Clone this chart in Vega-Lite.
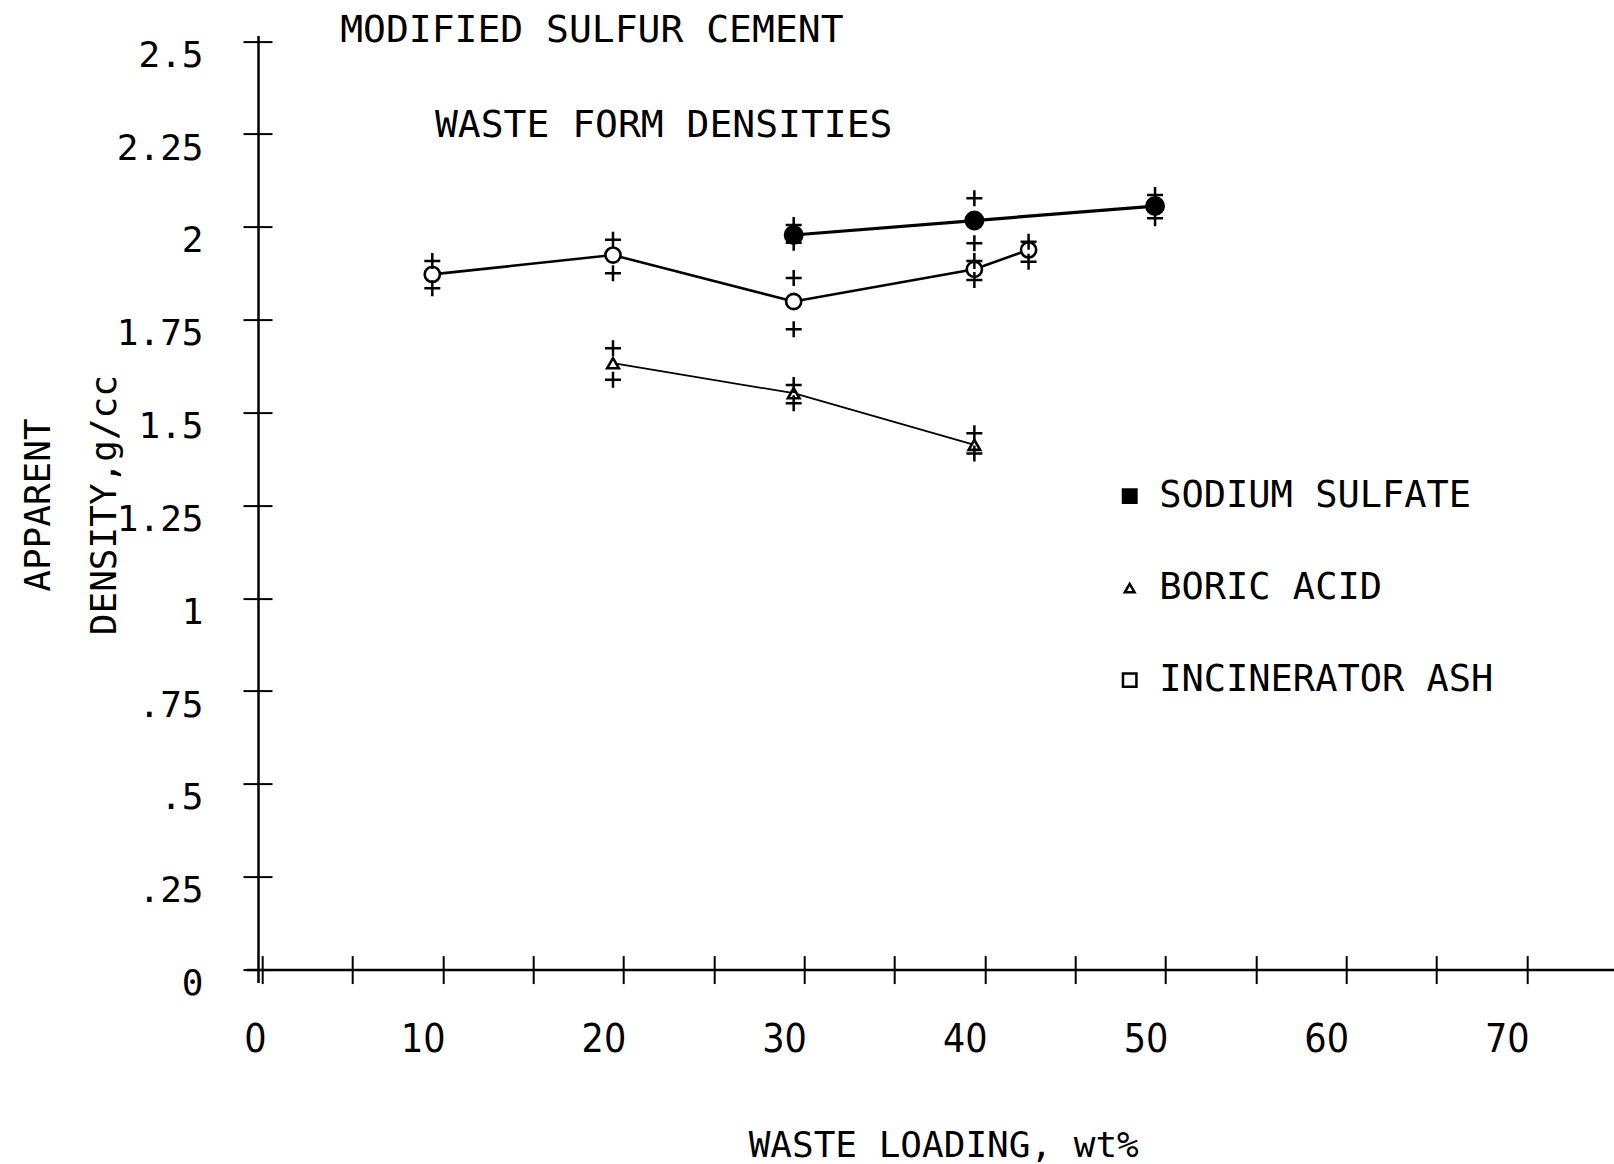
{
  "$schema": "https://vega.github.io/schema/vega-lite/v6.json",
  "width": 1367.8,
  "height": 947,
  "autosize": {"type": "none"},
  "padding": {"left": 246.2, "top": 35.6, "right": 0, "bottom": 181.4},
  "background": "white",
  "config": {"view": {"stroke": null}, "font": "DejaVu Sans Mono"},
  "title": {
    "text": "MODIFIED SULFUR CEMENT",
    "orient": "top",
    "anchor": "start",
    "frame": "group",
    "dx": 94,
    "offset": -14.2,
    "font": "DejaVu Sans Mono",
    "fontSize": 38,
    "fontWeight": "normal",
    "color": "black"
  },
  "datasets": {
    "means": [
      {"material": "SODIUM SULFATE", "loading": 30, "density": 1.978},
      {"material": "SODIUM SULFATE", "loading": 40, "density": 2.017},
      {"material": "SODIUM SULFATE", "loading": 50, "density": 2.056},
      {"material": "BORIC ACID", "loading": 20, "density": 1.633},
      {"material": "BORIC ACID", "loading": 30, "density": 1.552},
      {"material": "BORIC ACID", "loading": 40, "density": 1.413},
      {"material": "INCINERATOR ASH", "loading": 10, "density": 1.872},
      {"material": "INCINERATOR ASH", "loading": 20, "density": 1.924},
      {"material": "INCINERATOR ASH", "loading": 30, "density": 1.799},
      {"material": "INCINERATOR ASH", "loading": 40, "density": 1.886},
      {"material": "INCINERATOR ASH", "loading": 43, "density": 1.938}
    ],
    "replicates": [
      {"material": "SODIUM SULFATE", "loading": 30, "density": 2.005},
      {"material": "SODIUM SULFATE", "loading": 30, "density": 1.957},
      {"material": "SODIUM SULFATE", "loading": 40, "density": 2.077},
      {"material": "SODIUM SULFATE", "loading": 40, "density": 1.956},
      {"material": "SODIUM SULFATE", "loading": 50, "density": 2.086},
      {"material": "SODIUM SULFATE", "loading": 50, "density": 2.023},
      {"material": "BORIC ACID", "loading": 20, "density": 1.673},
      {"material": "BORIC ACID", "loading": 20, "density": 1.588},
      {"material": "BORIC ACID", "loading": 30, "density": 1.574},
      {"material": "BORIC ACID", "loading": 30, "density": 1.525},
      {"material": "BORIC ACID", "loading": 40, "density": 1.444},
      {"material": "BORIC ACID", "loading": 40, "density": 1.39},
      {"material": "INCINERATOR ASH", "loading": 10, "density": 1.908},
      {"material": "INCINERATOR ASH", "loading": 10, "density": 1.835},
      {"material": "INCINERATOR ASH", "loading": 20, "density": 1.965},
      {"material": "INCINERATOR ASH", "loading": 20, "density": 1.875},
      {"material": "INCINERATOR ASH", "loading": 30, "density": 1.862},
      {"material": "INCINERATOR ASH", "loading": 30, "density": 1.724},
      {"material": "INCINERATOR ASH", "loading": 40, "density": 1.908},
      {"material": "INCINERATOR ASH", "loading": 40, "density": 1.857},
      {"material": "INCINERATOR ASH", "loading": 43, "density": 1.96},
      {"material": "INCINERATOR ASH", "loading": 43, "density": 1.906}
    ]
  },
  "layer": [
    {
      "data": {"name": "means"},
      "mark": {"type": "line", "color": "black"},
      "encoding": {
        "x": {
          "field": "loading",
          "type": "quantitative",
          "scale": {"domain": [-0.3, 75.4], "nice": false, "zero": false},
          "axis": {
            "orient": "bottom",
            "offset": -13,
            "values": [0, 5, 10, 15, 20, 25, 30, 35, 40, 45, 50, 55, 60, 65, 70, 75],
            "tickSize": 14,
            "tickWidth": 2,
            "tickColor": "black",
            "tickOffset": 10.4,
            "labelExpr": "datum.value % 10 === 0 ? format(datum.value, 'd') : ''",
            "labelOffset": {"condition": {"test": "datum.value === 0", "value": -7}, "value": -20},
            "labelFont": "DejaVu Sans Condensed, DejaVu Sans Mono",
            "labelFontSize": 39,
            "labelColor": "black",
            "labelPadding": 37,
            "labelBaseline": "top",
            "labelAlign": "center",
            "labelFlush": false,
            "labelOverlap": false,
            "domain": true,
            "domainColor": "black",
            "domainWidth": 2.5,
            "grid": false,
            "title": "WASTE LOADING, wt%",
            "titleFont": "DejaVu Sans Mono",
            "titleFontSize": 36,
            "titleFontWeight": "normal",
            "titleColor": "black",
            "titleX": 697,
            "titleY": 187,
            "titleAlign": "center",
            "titleBaseline": "alphabetic"
          }
        },
        "y": {
          "field": "density",
          "type": "quantitative",
          "scale": {"domain": [-0.035, 2.515], "nice": false, "zero": false},
          "axis": {
            "orient": "left",
            "offset": -11.8,
            "values": [0, 0.25, 0.5, 0.75, 1, 1.25, 1.5, 1.75, 2, 2.25, 2.5],
            "tickSize": 15,
            "tickWidth": 2,
            "tickColor": "black",
            "labelExpr": "datum.value > 0 && datum.value < 1 ? slice(format(datum.value, '.2~f'), 1) : format(datum.value, '.2~f')",
            "labelFont": "DejaVu Sans Mono",
            "labelFontSize": 36,
            "labelColor": "black",
            "labelPadding": 40,
            "labelOffset": 14,
            "labelFlush": false,
            "labelOverlap": false,
            "domain": true,
            "domainColor": "black",
            "domainWidth": 2.5,
            "grid": false,
            "title": ["APPARENT", "DENSITY,g/cc"],
            "titleFont": "DejaVu Sans Mono",
            "titleFontSize": 36,
            "titleFontWeight": "normal",
            "titleColor": "black",
            "titleAngle": 270,
            "titleAlign": "center",
            "titleBaseline": "alphabetic",
            "titleLineHeight": 66,
            "titleX": -209,
            "titleY": 469
          }
        },
        "detail": {"field": "material", "type": "nominal"},
        "strokeWidth": {
          "field": "material",
          "type": "nominal",
          "scale": {"type": "ordinal", "domain": ["INCINERATOR ASH", "SODIUM SULFATE", "BORIC ACID"], "range": [2.6, 3.2, 1.8]},
          "legend": null
        }
      }
    },
    {
      "data": {"name": "means"},
      "mark": {"type": "point", "filled": true, "stroke": "black", "strokeWidth": 2.6, "opacity": 1},
      "encoding": {
        "x": {
          "field": "loading",
          "type": "quantitative",
          "axis": {
            "orient": "bottom",
            "offset": -27,
            "values": [0, 5, 10, 15, 20, 25, 30, 35, 40, 45, 50, 55, 60, 65, 70, 75],
            "tickSize": 14,
            "tickWidth": 2,
            "tickColor": "black",
            "tickOffset": 10.4,
            "labels": false,
            "domain": false,
            "grid": false,
            "title": null
          }
        },
        "y": {
          "field": "density",
          "type": "quantitative",
          "axis": {
            "orient": "left",
            "offset": -25.8,
            "values": [0, 0.25, 0.5, 0.75, 1, 1.25, 1.5, 1.75, 2, 2.25, 2.5],
            "tickSize": 14,
            "tickWidth": 2,
            "tickColor": "black",
            "labels": false,
            "domain": false,
            "grid": false,
            "title": null
          }
        },
        "shape": {
          "field": "material",
          "type": "nominal",
          "scale": {"domain": ["INCINERATOR ASH", "SODIUM SULFATE", "BORIC ACID"], "range": ["circle", "circle", "triangle-up"]},
          "legend": null
        },
        "fill": {
          "field": "material",
          "type": "nominal",
          "scale": {"domain": ["SODIUM SULFATE", "BORIC ACID", "INCINERATOR ASH"], "range": ["black", "white", "white"]},
          "legend": {
            "title": null,
            "orient": "none",
            "legendX": 865,
            "legendY": 442,
            "labelFont": "DejaVu Sans Mono",
            "labelFontSize": 37,
            "labelColor": "black",
            "labelLimit": 900,
            "labelOffset": 11,
            "rowPadding": 54,
            "symbolType": "square",
            "symbolSize": 180,
            "symbolStrokeWidth": 2.5,
            "symbolStrokeColor": "black",
            "symbolOpacity": 1,
            "encode": {
              "symbols": {
                "update": {
                  "shape": {"signal": "datum.value === 'BORIC ACID' ? 'triangle-up' : 'square'"},
                  "size": {"signal": "datum.value === 'BORIC ACID' ? 95 : 180"},
                  "stroke": {"value": "black"},
                  "strokeWidth": {"value": 2.5}
                }
              }
            }
          }
        },
        "size": {
          "field": "material",
          "type": "nominal",
          "scale": {"type": "ordinal", "domain": ["BORIC ACID", "INCINERATOR ASH", "SODIUM SULFATE"], "range": [135, 230, 300]},
          "legend": null
        }
      }
    },
    {
      "data": {"name": "replicates"},
      "mark": {
        "type": "point",
        "shape": "M-1,0H1M0,-1V1",
        "filled": false,
        "stroke": "black",
        "strokeWidth": 2.5,
        "size": 256,
        "opacity": 1
      },
      "encoding": {
        "x": {
          "field": "loading",
          "type": "quantitative",
          "axis": {
            "orient": "top",
            "domain": false,
            "ticks": false,
            "labels": false,
            "grid": false,
            "title": "WASTE FORM DENSITIES",
            "titleFont": "DejaVu Sans Mono",
            "titleFontSize": 38,
            "titleFontWeight": "normal",
            "titleColor": "black",
            "titleX": 188.2,
            "titleY": 100.4,
            "titleAlign": "left",
            "titleAnchor": "start",
            "titleBaseline": "alphabetic"
          }
        },
        "y": {"field": "density", "type": "quantitative", "axis": null}
      }
    }
  ],
  "resolve": {"axis": {"x": "independent", "y": "independent"}}
}
